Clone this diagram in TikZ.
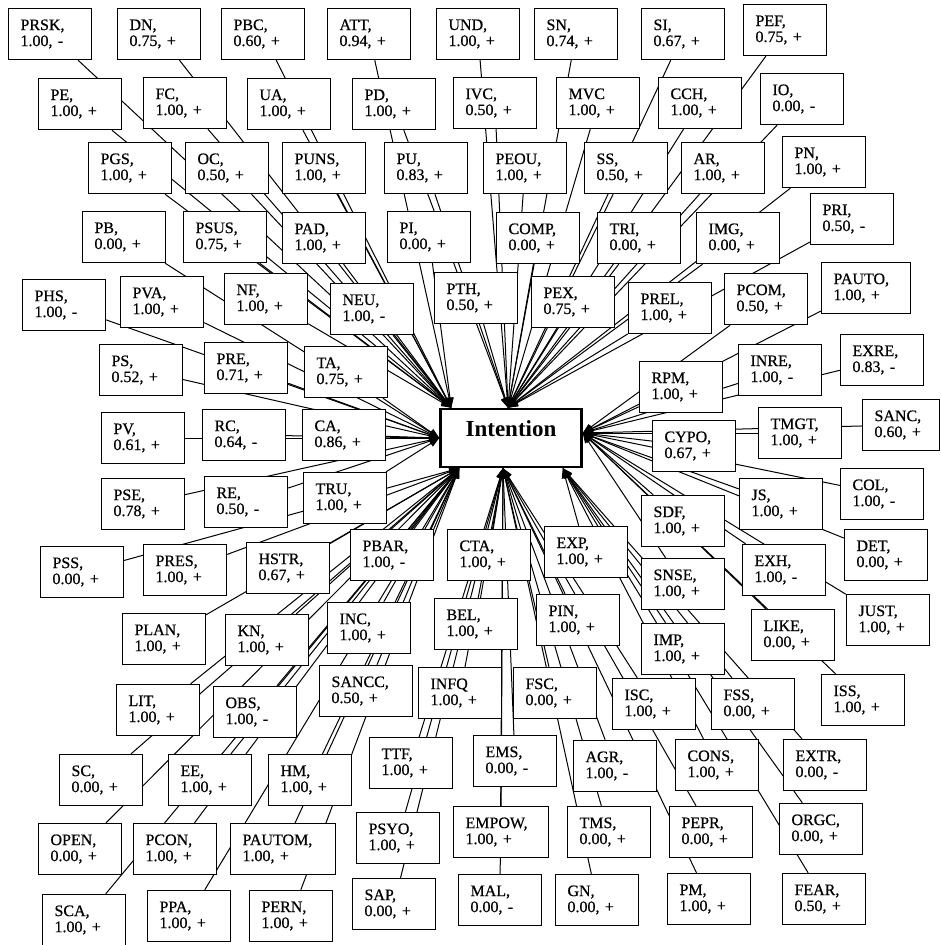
\documentclass[tikz,border=0pt]{standalone}
\usepackage{fontspec}
\setmainfont{Liberation Serif}
\newfontfamily\lblfont[FakeBold=0.6]{Liberation Serif}
\usepackage{tikz}
\usetikzlibrary{arrows.meta,backgrounds}

\begin{document}
\begin{tikzpicture}[x=1pt,y=-1pt,
  fbox/.style={draw,fill=white,line width=1.4pt,inner xsep=12pt,inner ysep=0pt,
    minimum height=51pt,align=left,font=\lblfont\fontsize{16}{16}\selectfont},
  goal/.style={draw,fill=white,line width=2.5pt,minimum width=141pt,minimum height=58pt,
    font=\bfseries\fontsize{23}{26}\selectfont,text height=15pt,text depth=18pt},
  link/.style={line width=1pt,-{Triangle[length=10pt,width=7.5pt]}}]
\useasboundingbox (0,0) rectangle (940,945);
% target box and the points where the arrows meet it
\node[goal] (int) at (511,438) {Intention};
\coordinate (in-ul) at ([xshift=12pt]int.north west);
\coordinate (in-t) at ([xshift=-3pt]int.north);
\coordinate (in-l) at (int.west);
\coordinate (in-r) at ([yshift=5pt]int.east);
\coordinate (in-bl) at ([xshift=20pt]int.south west);
\coordinate (in-b) at ([xshift=-8pt]int.south);
\coordinate (in-br) at ([xshift=-20pt]int.south east);
% factors: name/x/y/text/width/port
\foreach \n/\nx/\ny/\t/\w/\p in {
  PRSK/50/34/{PRSK,\\1.00, -}/59/ul, DN/159/34/{DN,\\0.75, +}/59/ul,
  PBC/263/34/{PBC,\\0.60, +}/59/ul, ATT/369/34/{ATT,\\0.94, +}/59/ul,
  UND/478/34/{UND,\\1.00, +}/59/t, SN/576/34/{SN,\\0.74, +}/59/t,
  SI/683/34/{SI,\\0.67, +}/59/t, PEF/785/30/{PEF,\\0.75, +}/59/t,
  PE/80/104/{PE,\\1.00, +}/59/ul, FC/185/103/{FC,\\1.00, +}/59/ul,
  UA/289/104/{UA,\\1.00, +}/59/ul, PD/394/104/{PD,\\1.00, +}/59/t,
  IVC/495/103/{IVC,\\0.50, +}/59/t, MVC/598/103/{MVC\\1.00, +}/59/t,
  CCH/700/103/{CCH,\\1.00, +}/59/t, IO/802/99/{IO,\\0.00, -}/59/t,
  PGS/130/168/{PGS,\\1.00, +}/59/ul, OC/227/168/{OC,\\0.50, +}/59/ul,
  PUNS/324/168/{PUNS,\\1.00, +}/59/ul, PU/426/168/{PU,\\0.83, +}/59/t,
  PEOU/525/168/{PEOU,\\1.00, +}/59/t, SS/626/168/{SS,\\0.50, +}/59/t,
  AR/723/168/{AR,\\1.00, +}/59/t, PN/824/162/{PN,\\1.00, +}/59/t,
  PB/124/237/{PB,\\0.00, +}/59/l, PSUS/225/237/{PSUS,\\0.75, +}/59/ul,
  PAD/324/238/{PAD,\\1.00, +}/59/ul, PI/429/237/{PI,\\0.00, +}/59/ul,
  COMP/538/238/{COMP,\\0.00, +}/59/t, TRI/639/238/{TRI,\\0.00, +}/59/t,
  IMG/738/238/{IMG,\\0.00, +}/59/t, PRI/852/219/{PRI,\\0.50, -}/59/t,
  PHS/64/305/{PHS,\\1.00, -}/59/l, PVA/162/302/{PVA,\\1.00, +}/59/l,
  NF/266/299/{NF,\\1.00, +}/59/ul, NEU/372/309/{NEU,\\1.00, -}/59/ul,
  PTH/476/298/{PTH,\\0.50, +}/59/t, PEX/573/302/{PEX,\\0.75, +}/59/t,
  PREL/670/308/{PREL,\\1.00, +}/59/t, PCOM/766/299/{PCOM,\\0.50, +}/59/r,
  PAUTO/866/288/{PAUTO,\\1.00, +}/65/r,
  PS/141/370/{PS,\\0.52, +}/59/l, PRE/246/368/{PRE,\\0.71, +}/59/l,
  TA/346/372/{TA,\\0.75, +}/59/l, RPM/681/387/{RPM,\\1.00, +}/59/r,
  INRE/780/370/{INRE,\\1.00, -}/59/r, EXRE/882/360/{EXRE,\\0.83, -}/59/r,
  PV/143/438/{PV,\\0.61, +}/59/l, RC/244/435/{RC,\\0.64, -}/59/l,
  CA/344/435/{CA,\\0.86, +}/59/l, CYPO/694/446/{CYPO,\\0.67, +}/59/r,
  TMGT/800/433/{TMGT,\\1.00, +}/59/r, SANC/901/425/{SANC,\\0.60, +}/53/r,
  PSE/143/504/{PSE,\\0.78, +}/59/l, RE/246/502/{RE,\\0.50, -}/59/l,
  TRU/345/498/{TRU,\\1.00, +}/59/l, JS/781/504/{JS,\\1.00, +}/59/r,
  COL/882/494/{COL,\\1.00, -}/59/r, SDF/683/521/{SDF,\\1.00, +}/59/r,
  PSS/82/572/{PSS,\\0.00, +}/59/bl, PRES/185/570/{PRES,\\1.00, +}/59/bl,
  HSTR/288/568/{HSTR,\\0.67, +}/59/bl, PBAR/392/555/{PBAR,\\1.00, -}/59/bl,
  CTA/489/555/{CTA,\\1.00, +}/59/b, EXP/586/552/{EXP,\\1.00, +}/59/br,
  DET/886/555/{DET,\\0.00, +}/59/r, EXH/784/570/{EXH,\\1.00, -}/59/r,
  SNSE/683/584/{SNSE,\\1.00, +}/59/r,
  PLAN/164/639/{PLAN,\\1.00, +}/59/bl, KN/267/640/{KN,\\1.00, +}/59/bl,
  INC/369/628/{INC,\\1.00, +}/59/bl, BEL/476/624/{BEL,\\1.00, +}/59/b,
  PIN/578/620/{PIN,\\1.00, +}/59/b, JUST/888/620/{JUST,\\1.00, +}/59/r,
  LIKE/793/635/{LIKE,\\0.00, +}/59/r, IMP/683/649/{IMP,\\1.00, +}/59/br,
  LIT/158/710/{LIT,\\1.00, +}/59/bl, OBS/255/712/{OBS,\\1.00, -}/59/bl,
  SANCC/366/691/{SANCC,\\0.50, +}/69/bl, INFQ/460/693/{INFQ\\1.00, +}/59/b,
  FSC/555/693/{FSC,\\0.00, +}/59/b, ISC/654/704/{ISC,\\1.00, +}/59/b,
  FSS/753/704/{FSS,\\0.00, +}/59/br, ISS/863/700/{ISS,\\1.00, +}/59/r,
  SC/101/780/{SC,\\0.00, +}/59/bl, EE/210/780/{EE,\\1.00, +}/59/bl,
  HM/310/780/{HM,\\1.00, +}/59/bl, TTF/411/763/{TTF,\\1.00, +}/59/b,
  EMS/515/761/{EMS,\\0.00, -}/59/b, AGR/615/766/{AGR,\\1.00, -}/59/b,
  CONS/717/765/{CONS,\\1.00, +}/59/br, EXTR/825/765/{EXTR,\\0.00, -}/59/br,
  OPEN/80/849/{OPEN,\\0.00, +}/59/bl, PCON/175/849/{PCON,\\1.00, +}/59/bl,
  PAUTOM/283/849/{PAUTOM,\\1.00, +}/81/bl, PSYO/398/838/{PSYO,\\1.00, +}/59/b,
  EMPOW/501/832/{EMPOW,\\1.00, +}/71/b, TMS/609/832/{TMS,\\0.00, +}/59/b,
  PEPR/711/832/{PEPR,\\0.00, +}/59/b, ORGC/821/829/{ORGC,\\0.00, +}/59/br,
  SCA/84/920/{SCA,\\1.00, +}/59/bl, PPA/189/916/{PPA,\\1.00, +}/59/bl,
  PERN/291/916/{PERN,\\1.00, +}/59/bl, SAP/394/904/{SAP,\\0.00, +}/59/b,
  MAL/500/900/{MAL,\\0.00, -}/59/b, GN/597/900/{GN,\\0.00, +}/59/b,
  PM/709/899/{PM,\\1.00, +}/59/b, FEAR/824/899/{FEAR,\\0.50, +}/59/br}
{
  \node[fbox,text width=\w pt] (\n) at (\nx,\ny) {\t};
  \begin{scope}[on background layer]
    \draw[link] (\n) -- (in-\p);
  \end{scope}
}
\end{tikzpicture}
\end{document}
